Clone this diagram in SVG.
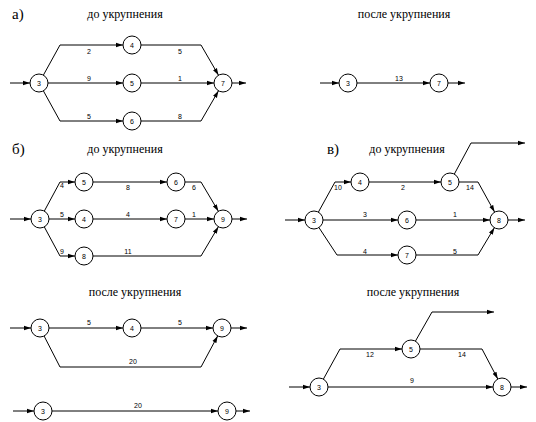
<svg xmlns="http://www.w3.org/2000/svg" width="536" height="422" viewBox="0 0 536 422">
<style>
.bg{fill:#fff}
.c path{fill:none;stroke:#000;stroke-width:1;marker-end:url(#ah)}
.c path.n{marker-end:none}
.nd circle{fill:#fff;stroke:#000;stroke-width:1}
.nd text{font-family:"Liberation Sans",Arial,sans-serif;font-size:7px;text-anchor:middle;fill:#000}
.lb{font-family:"Liberation Sans",Arial,sans-serif;font-size:7px;text-anchor:middle;fill:#000}
.tt{font-family:"Liberation Serif","Times New Roman",serif;font-size:12px;text-anchor:middle;fill:#000}
.sec{font-family:"Liberation Serif","Times New Roman",serif;font-size:15px;fill:#000}
</style>
<defs>
<marker id="ah" markerWidth="8" markerHeight="6" refX="7" refY="3" orient="auto" markerUnits="userSpaceOnUse">
<path d="M0,0.8 L7,3 L0,5.2 z" fill="#000"/>
</marker>
</defs>
<rect class="bg" x="0" y="0" width="536" height="422"/>

<!-- titles -->
<text class="sec" x="12" y="19">а)</text>
<text class="tt" x="125" y="18">до укрупнения</text>
<text class="tt" x="404" y="18">после укрупнения</text>
<text class="sec" x="12" y="154">б)</text>
<text class="tt" x="125" y="153">до укрупнения</text>
<text class="sec" x="327" y="154">в)</text>
<text class="tt" x="407" y="153">до укрупнения</text>
<text class="tt" x="135" y="296">после укрупнения</text>
<text class="tt" x="413" y="296">после укрупнения</text>

<g id="connectors" class="c">
<!-- a before -->
<path d="M10,83 L30,83"/>
<path d="M232,83 L246,83"/>
<path d="M43.4,75.1 L60,45 L123,45"/>
<path d="M141,45 L201,45 L218.5,75.2"/>
<path d="M48,83 L123,83"/>
<path d="M141,83 L214,83"/>
<path d="M43.4,90.9 L60,121 L123,121"/>
<path d="M141,121 L201,121 L218.5,90.8"/>
<!-- a after -->
<path d="M320,83 L339,83"/>
<path d="M357,83 L430,83"/>
<path d="M448,83 L465,83"/>
<!-- b before -->
<path d="M10,219 L31,219"/>
<path d="M232,219 L247,219"/>
<path d="M44.3,211.1 L60,182 L75,182"/>
<path d="M93,182 L167,182"/>
<path d="M185,182 L201,182 L218.4,211.3"/>
<path d="M49,219 L75,219"/>
<path d="M93,219 L167,219"/>
<path d="M185,219 L214,219"/>
<path d="M44.3,226.9 L60,256 L75,256"/>
<path d="M93,256 L201,256 L218.4,226.7"/>
<!-- v before -->
<path d="M285,220 L305,220"/>
<path d="M508,220 L525,220"/>
<path d="M318.4,212.1 L335,182 L351,182"/>
<path d="M369,182 L441,182"/>
<path d="M459,182 L478,182 L494.6,212.1"/>
<path d="M454.3,174.1 L471,143 L525,143"/>
<path d="M323,220 L398,220"/>
<path d="M416,220 L490,220"/>
<path d="M318.9,227.5 L337,255 L398,255"/>
<path d="M416,255 L478,255 L494.4,227.7"/>
<!-- b after -->
<path d="M10,328 L31,328"/>
<path d="M49,328 L123,328"/>
<path d="M141,328 L213,328"/>
<path d="M231,328 L247,328"/>
<path d="M44.1,336 L60,367 L201,367 L217.7,335.9"/>
<path d="M13,411 L34,411"/>
<path d="M52,411 L218,411"/>
<path d="M236,411 L250,411"/>
<!-- v after -->
<path d="M289,387 L310,387"/>
<path d="M328,387 L493,387"/>
<path d="M511,387 L527,387"/>
<path d="M323.4,379.1 L340,349 L402,349"/>
<path d="M420,349 L482,349 L497.8,379"/>
<path d="M415.4,341.2 L432,312 L494,312"/>
</g>

<g id="labels">
<text class="lb" x="89" y="53.5">2</text>
<text class="lb" x="180" y="53.5">5</text>
<text class="lb" x="89" y="81">9</text>
<text class="lb" x="180" y="81">1</text>
<text class="lb" x="89" y="119">5</text>
<text class="lb" x="180" y="119">8</text>
<text class="lb" x="399" y="81">13</text>

<text class="lb" x="62" y="188">4</text>
<text class="lb" x="128" y="190">8</text>
<text class="lb" x="194" y="190">6</text>
<text class="lb" x="62" y="216.5">5</text>
<text class="lb" x="128" y="217">4</text>
<text class="lb" x="194" y="217">1</text>
<text class="lb" x="62" y="254">9</text>
<text class="lb" x="128" y="254">11</text>

<text class="lb" x="338" y="189.5">10</text>
<text class="lb" x="403" y="189.5">2</text>
<text class="lb" x="470" y="189.5">14</text>
<text class="lb" x="365" y="217">3</text>
<text class="lb" x="455" y="217">1</text>
<text class="lb" x="365" y="254">4</text>
<text class="lb" x="455" y="254">5</text>

<text class="lb" x="89" y="325">5</text>
<text class="lb" x="180" y="325">5</text>
<text class="lb" x="133" y="364">20</text>
<text class="lb" x="138" y="408">20</text>

<text class="lb" x="370" y="356.5">12</text>
<text class="lb" x="462" y="356.5">14</text>
<text class="lb" x="412" y="383">9</text>
</g>

<!-- a before nodes -->
<g id="a3" class="nd"><circle cx="39" cy="83" r="9"/><text x="39" y="85.5">3</text></g>
<g id="a4" class="nd"><circle cx="132" cy="45" r="9"/><text x="132" y="47.5">4</text></g>
<g id="a5" class="nd"><circle cx="132" cy="83" r="9"/><text x="132" y="85.5">5</text></g>
<g id="a6" class="nd"><circle cx="132" cy="121" r="9"/><text x="132" y="123.5">6</text></g>
<g id="a7" class="nd"><circle cx="223" cy="83" r="9"/><text x="223" y="85.5">7</text></g>
<!-- a after nodes -->
<g id="a2_3" class="nd"><circle cx="348" cy="83" r="9"/><text x="348" y="85.5">3</text></g>
<g id="a2_7" class="nd"><circle cx="439" cy="83" r="9"/><text x="439" y="85.5">7</text></g>
<!-- b before nodes -->
<g id="b3" class="nd"><circle cx="40" cy="219" r="9"/><text x="40" y="221.5">3</text></g>
<g id="b5" class="nd"><circle cx="84" cy="182" r="9"/><text x="84" y="184.5">5</text></g>
<g id="b4" class="nd"><circle cx="84" cy="219" r="9"/><text x="84" y="221.5">4</text></g>
<g id="b8" class="nd"><circle cx="84" cy="256" r="9"/><text x="84" y="258.5">8</text></g>
<g id="b6" class="nd"><circle cx="176" cy="182" r="9"/><text x="176" y="184.5">6</text></g>
<g id="b7" class="nd"><circle cx="176" cy="219" r="9"/><text x="176" y="221.5">7</text></g>
<g id="b9" class="nd"><circle cx="223" cy="219" r="9"/><text x="223" y="221.5">9</text></g>
<!-- v before nodes -->
<g id="v3" class="nd"><circle cx="314" cy="220" r="9"/><text x="314" y="222.5">3</text></g>
<g id="v4" class="nd"><circle cx="360" cy="182" r="9"/><text x="360" y="184.5">4</text></g>
<g id="v5" class="nd"><circle cx="450" cy="182" r="9"/><text x="450" y="184.5">5</text></g>
<g id="v6" class="nd"><circle cx="407" cy="220" r="9"/><text x="407" y="222.5">6</text></g>
<g id="v7" class="nd"><circle cx="407" cy="255" r="9"/><text x="407" y="257.5">7</text></g>
<g id="v8" class="nd"><circle cx="499" cy="220" r="9"/><text x="499" y="222.5">8</text></g>
<!-- b after nodes -->
<g id="b2_3" class="nd"><circle cx="40" cy="328" r="9"/><text x="40" y="330.5">3</text></g>
<g id="b2_4" class="nd"><circle cx="132" cy="328" r="9"/><text x="132" y="330.5">4</text></g>
<g id="b2_9" class="nd"><circle cx="222" cy="328" r="9"/><text x="222" y="330.5">9</text></g>
<g id="b3_3" class="nd"><circle cx="43" cy="411" r="9"/><text x="43" y="413.5">3</text></g>
<g id="b3_9" class="nd"><circle cx="227" cy="411" r="9"/><text x="227" y="413.5">9</text></g>
<!-- v after nodes -->
<g id="v2_3" class="nd"><circle cx="319" cy="387" r="9"/><text x="319" y="389.5">3</text></g>
<g id="v2_5" class="nd"><circle cx="411" cy="349" r="9"/><text x="411" y="351.5">5</text></g>
<g id="v2_8" class="nd"><circle cx="502" cy="387" r="9"/><text x="502" y="389.5">8</text></g>
</svg>
